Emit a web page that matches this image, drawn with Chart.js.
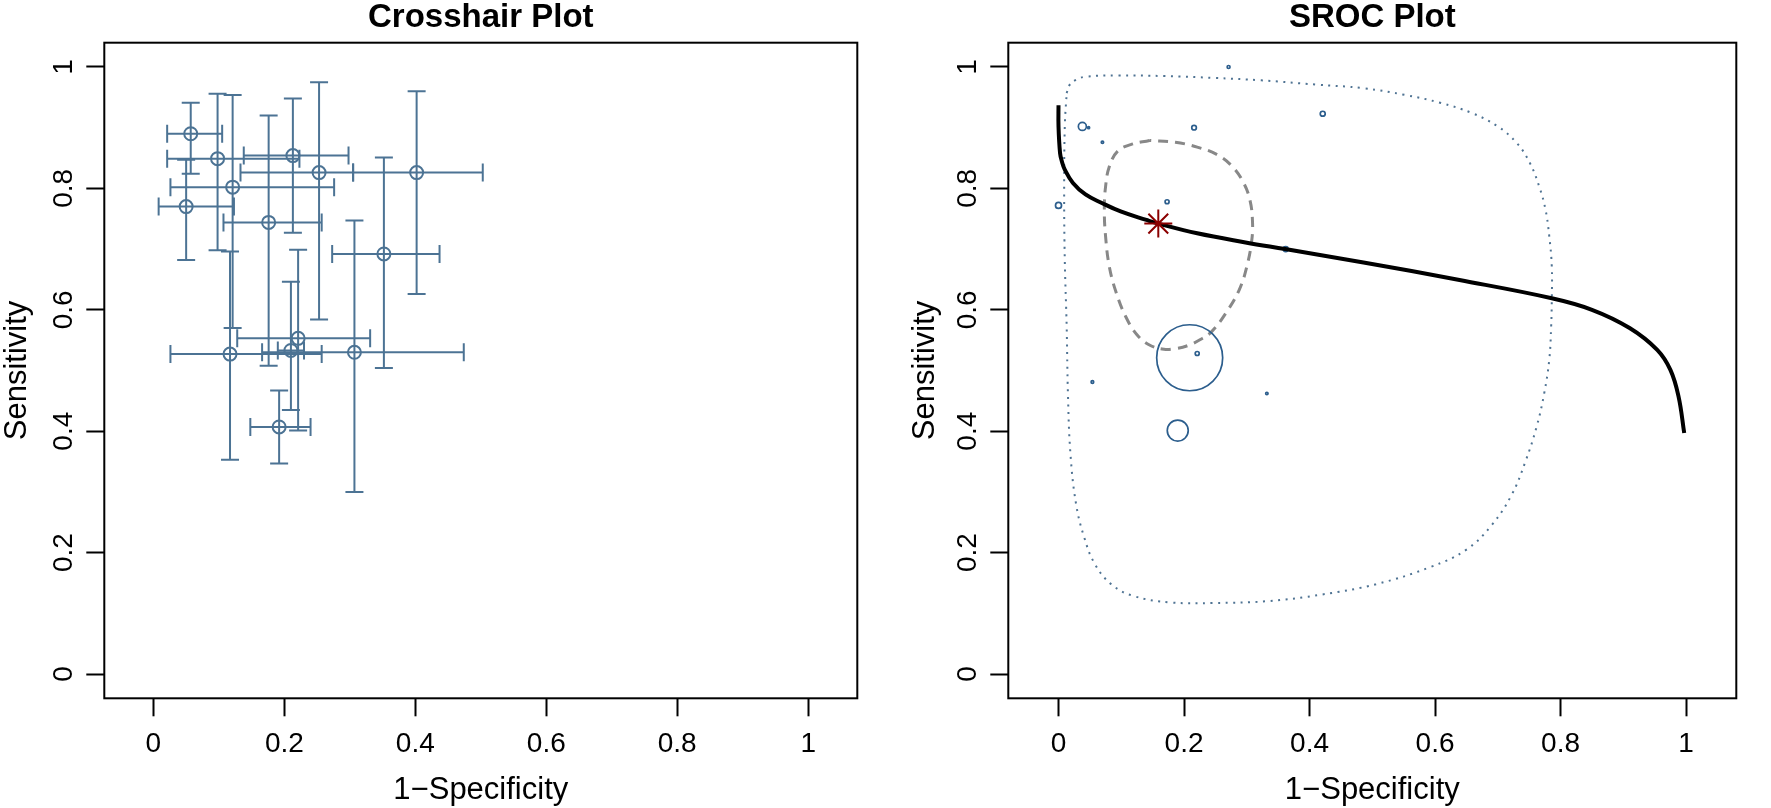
<!DOCTYPE html>
<html>
<head>
<meta charset="utf-8">
<script src="https://cdn.jsdelivr.net/npm/chart.js@4"></script>
<style>
    html, body { margin: 0; padding: 0; background: #fff; }
    #wrap { position: relative; width: 1771px; height: 808px; }
    canvas { position: absolute; top: 0; }
</style>
</head>
<body>
<div id="wrap">
    <canvas id="crosshairChart" width="885" height="808" style="left:0"></canvas>
    <canvas id="srocChart" width="886" height="808" style="left:885px"></canvas>
</div>
<script>
const xTicks = [0, 0.2, 0.4, 0.6, 0.8, 1];
const yTicks = [0, 0.2, 0.4, 0.6, 0.8, 1];

// Crosshair plot: per-study 1-specificity / sensitivity with CIs
const studyFpr  = [0.057, 0.098, 0.213, 0.121, 0.050, 0.253, 0.402, 0.176, 0.352, 0.221, 0.210, 0.117, 0.307, 0.192];
const fprLower  = [0.021, 0.021, 0.138, 0.026, 0.008, 0.133, 0.305, 0.107, 0.273, 0.128, 0.190, 0.026, 0.166, 0.148];
const fprUpper  = [0.105, 0.223, 0.298, 0.276, 0.123, 0.305, 0.503, 0.257, 0.437, 0.331, 0.230, 0.257, 0.474, 0.240];
const studySens = [0.890, 0.849, 0.854, 0.802, 0.770, 0.826, 0.826, 0.744, 0.692, 0.553, 0.533, 0.527, 0.530, 0.407];
const sensLower = [0.824, 0.698, 0.727, 0.570, 0.682, 0.584, 0.626, 0.508, 0.504, 0.401, 0.435, 0.353, 0.300, 0.347];
const sensUpper = [0.941, 0.956, 0.948, 0.954, 0.847, 0.975, 0.960, 0.920, 0.851, 0.699, 0.646, 0.696, 0.747, 0.467];

// SROC plot: study points and their relative weights
const srocFpr    = [0.271, 0.038, 0.048, 0.070, 0.216, 0.000, 0.173, 0.209, 0.221, 0.054, 0.332, 0.190, 0.362, 0.421];
const srocSens   = [1.000, 0.902, 0.900, 0.876, 0.900, 0.772, 0.778, 0.521, 0.528, 0.481, 0.462, 0.401, 0.700, 0.923];
const srocWeight = [0.2, 1.47, 0.09, 0.13, 0.49, 0.83, 0.37, 100, 0.37, 0.16, 0.13, 10.1, 0.57, 0.57];

// summary point
const summaryFpr = 0.159;
const summarySens = 0.742;

// SROC curve
const curveFpr  = [0.000, 0.000, 0.0025, 0.0055, 0.010, 0.023, 0.043, 0.069, 0.099, 0.140, 0.159, 0.221, 0.298, 0.361, 0.486, 0.639, 0.786, 0.850, 0.910, 0.954, 0.975, 0.988, 0.997];
const curveSens = [0.937, 0.902, 0.858, 0.844, 0.831, 0.809, 0.790, 0.776, 0.762, 0.748, 0.742, 0.726, 0.711, 0.700, 0.678, 0.649, 0.619, 0.600, 0.570, 0.534, 0.501, 0.457, 0.397];

// confidence region (dashed)
const confFpr  = [0.145, 0.115, 0.094, 0.081, 0.075, 0.073, 0.075, 0.081, 0.092, 0.107, 0.125, 0.145, 0.168, 0.186, 0.206, 0.226, 0.244, 0.267, 0.288, 0.300, 0.308, 0.309, 0.305, 0.295, 0.277, 0.252, 0.221, 0.186, 0.145];
const confSens = [0.879, 0.872, 0.861, 0.836, 0.803, 0.765, 0.721, 0.671, 0.628, 0.589, 0.559, 0.542, 0.535, 0.536, 0.541, 0.551, 0.564, 0.595, 0.633, 0.671, 0.715, 0.748, 0.781, 0.809, 0.836, 0.856, 0.868, 0.876, 0.879];

// prediction region (dotted)
const predFpr  = [0.013, 0.018, 0.028, 0.043, 0.094, 0.170, 0.247, 0.323, 0.410, 0.486, 0.552, 0.608, 0.659, 0.700, 0.730, 0.751, 0.766, 0.776, 0.782, 0.786, 0.786, 0.785, 0.782, 0.774, 0.762, 0.744, 0.722, 0.690, 0.650, 0.592, 0.506, 0.420, 0.333, 0.247, 0.178, 0.118, 0.084, 0.058, 0.041, 0.028, 0.019, 0.015, 0.013, 0.010, 0.009, 0.010, 0.013];
const predSens = [0.957, 0.971, 0.979, 0.984, 0.986, 0.985, 0.982, 0.978, 0.971, 0.965, 0.954, 0.941, 0.924, 0.902, 0.875, 0.842, 0.803, 0.765, 0.721, 0.671, 0.617, 0.573, 0.518, 0.463, 0.408, 0.350, 0.295, 0.245, 0.205, 0.176, 0.148, 0.131, 0.120, 0.117, 0.118, 0.129, 0.148, 0.181, 0.225, 0.280, 0.363, 0.463, 0.573, 0.682, 0.792, 0.902, 0.957];

const FONT = '"Liberation Sans", Arial, Helvetica, sans-serif';
const barColor = '#4c7394';
const pointColor = '#2c5e8d';

function fmt(v) {
    return String(Math.round(v * 10) / 10);
}

// R-like frame: box, titles, tick labels (y labels rotated)
const rFrame = {
    id: 'rFrame',
    afterDraw(chart, args, opts) {
        const ctx = chart.ctx;
        const a = chart.chartArea;
        const xs = chart.scales.x;
        const ys = chart.scales.y;
        const cx = (a.left + a.right) / 2;
        const cy = (a.top + a.bottom) / 2;
        ctx.save();
        ctx.strokeStyle = '#000';
        ctx.lineWidth = 2;
        ctx.strokeRect(a.left, a.top, a.right - a.left, a.bottom - a.top);

        ctx.fillStyle = '#000';
        ctx.textAlign = 'center';
        ctx.textBaseline = 'alphabetic';
        ctx.font = 'bold 33px ' + FONT;
        ctx.fillText(opts.title, cx, 27);

        ctx.font = '28px ' + FONT;
        xs.ticks.forEach(t => ctx.fillText(fmt(t.value), xs.getPixelForValue(t.value), 752));

        ctx.font = '31px ' + FONT;
        ctx.fillText(opts.xTitle, cx, 799);

        ys.ticks.forEach(t => {
            ctx.save();
            ctx.translate(a.left - 32, ys.getPixelForValue(t.value));
            ctx.rotate(-Math.PI / 2);
            ctx.font = '28px ' + FONT;
            ctx.fillText(fmt(t.value), 0, 0);
            ctx.restore();
        });

        ctx.save();
        ctx.translate(a.left - opts.yTitleGap, cy);
        ctx.rotate(-Math.PI / 2);
        ctx.font = '31px ' + FONT;
        ctx.fillText(opts.yTitle, 0, 0);
        ctx.restore();
        ctx.restore();
    }
};

function buildOptions(panel) {
    const tickGrid = {
        drawOnChartArea: false, drawTicks: true,
        tickLength: 18, tickWidth: 2, tickColor: '#000'
    };
    return {
        responsive: false,
        animation: false,
        devicePixelRatio: 1,
        events: [],
        layout: { padding: { top: 42.7, left: 0, bottom: 0, right: panel.canvasW - panel.chartRight } },
        scales: {
            x: {
                type: 'linear', min: panel.xMin, max: panel.xMax,
                grid: tickGrid, border: { display: false }, ticks: { display: false },
                afterBuildTicks: s => { s.ticks = xTicks.map(v => ({ value: v })); },
                afterFit: s => { s.height = 808 - 698.3; }
            },
            y: {
                type: 'linear', min: -0.04, max: 1.04,
                grid: tickGrid, border: { display: false }, ticks: { display: false },
                afterBuildTicks: s => { s.ticks = yTicks.map(v => ({ value: v })); },
                afterFit: s => { s.width = panel.chartLeft; }
            }
        },
        plugins: {
            legend: { display: false },
            tooltip: { enabled: false },
            rFrame: { title: panel.title, xTitle: '1\u2212Specificity', yTitle: 'Sensitivity', yTitleGap: panel.yTitleGap }
        }
    };
}

function renderCrosshair() {
    const datasets = [];
    datasets.push({
        data: studyFpr.map((x, i) => ({ x, y: studySens[i] })),
        pointStyle: 'circle', pointRadius: 6.5,
        borderColor: barColor, backgroundColor: 'rgba(0,0,0,0)', borderWidth: 2
    });
    studyFpr.forEach((x, i) => {
        datasets.push({
            data: [{ x: fprLower[i], y: studySens[i] }, { x: fprUpper[i], y: studySens[i] }],
            showLine: true, borderColor: barColor, borderWidth: 2,
            pointStyle: 'line', rotation: 90, pointRadius: 9, pointBorderWidth: 2, pointBorderColor: barColor
        });
        datasets.push({
            data: [{ x, y: sensLower[i] }, { x, y: sensUpper[i] }],
            showLine: true, borderColor: barColor, borderWidth: 2,
            pointStyle: 'line', rotation: 0, pointRadius: 9, pointBorderWidth: 2, pointBorderColor: barColor
        });
    });

    new Chart(document.getElementById('crosshairChart'), {
        type: 'scatter',
        data: { datasets },
        options: buildOptions({
            canvasW: 885, chartLeft: 104.3, chartRight: 857.3,
            xMin: -0.075, xMax: 1.075, title: 'Crosshair Plot', yTitleGap: 78
        }),
        plugins: [rFrame]
    });
}

function renderSroc() {
    const datasets = [
        {
            data: [{ x: summaryFpr, y: summarySens }],
            pointStyle: 'star', pointRadius: 14,
            borderColor: '#8b0000', borderWidth: 2
        },
        {
            data: curveFpr.map((x, i) => ({ x, y: curveSens[i] })),
            showLine: true, pointRadius: 0, borderColor: '#000', borderWidth: 4,
            tension: 0.4
        },
        {
            data: srocFpr.map((x, i) => ({ x, y: srocSens[i] })),
            pointStyle: 'circle',
            pointRadius: c => 3.3 * Math.sqrt(srocWeight[c.dataIndex]),
            borderColor: pointColor, backgroundColor: 'rgba(0,0,0,0)', borderWidth: 1.7
        },
        {
            data: confFpr.map((x, i) => ({ x, y: confSens[i] })),
            showLine: true, pointRadius: 0, borderColor: '#888888', borderWidth: 3,
            borderDash: [10, 7], tension: 0.4
        },
        {
            data: predFpr.map((x, i) => ({ x, y: predSens[i] })),
            showLine: true, pointRadius: 0, borderColor: '#4f7393', borderWidth: 2,
            borderDash: [2, 5.5], tension: 0.4
        }
    ];

    new Chart(document.getElementById('srocChart'), {
        type: 'scatter',
        data: { datasets },
        options: buildOptions({
            canvasW: 886, chartLeft: 123.3, chartRight: 883.7,
            xMin: -0.08, xMax: 1.08, title: 'SROC Plot', yTitleGap: 74
        }),
        plugins: [rFrame]
    });
}

renderCrosshair();
renderSroc();
</script>
</body>
</html>
